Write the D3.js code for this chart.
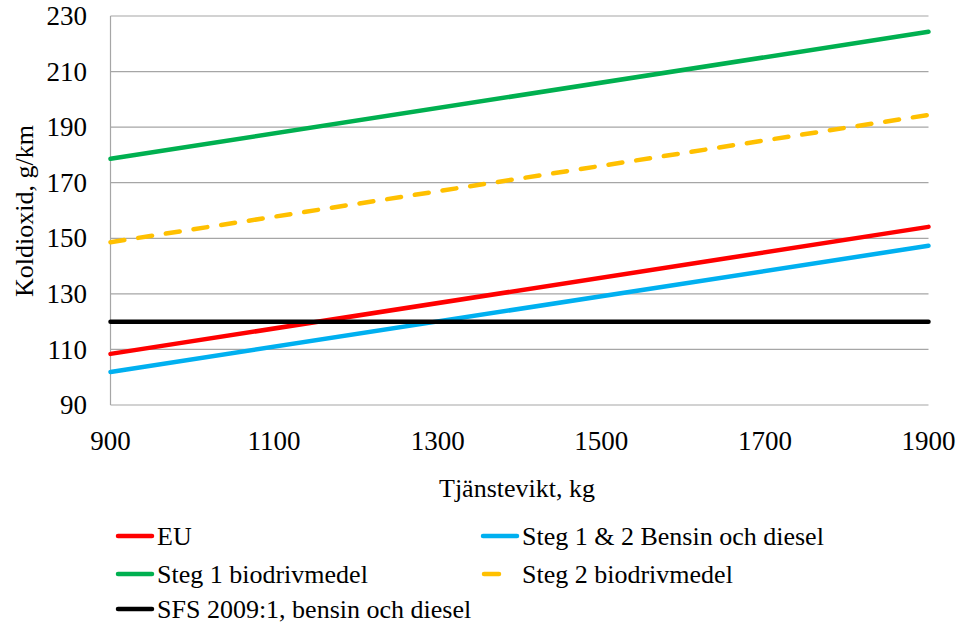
<!DOCTYPE html>
<html><head><meta charset="utf-8">
<script src="https://cdn.jsdelivr.net/npm/d3@7"></script>
</head><body style="margin:0"><svg id="c" width="961" height="628"></svg>
<script>
const xTicks = [900, 1100, 1300, 1500, 1700, 1900];
const yTicks = [90, 110, 130, 150, 170, 190, 210, 230];
const mass = [900, 1900];
const seriesNames = ["EU", "Steg 1 & 2 Bensin och diesel", "Steg 1 biodrivmedel", "Steg 2 biodrivmedel", "SFS 2009:1, bensin och diesel"];
const euValues = [108.4, 154.1];
const steg12Values = [101.9, 147.3];
const steg1BioValues = [178.6, 224.3];
const steg2BioValues = [148.6, 194.4];
const sfsValues = [120, 120];
const seriesColors = ["#ff0000", "#00b0f0", "#00b050", "#ffc000", "#000000"];
const seriesDash = [null, null, null, "14,14", null];

const FONT = "'Times New Roman', Tinos, 'Liberation Serif', serif";
const svg = d3.select("#c");
const x = d3.scaleLinear().domain([900, 1900]).range([110.5, 928.5]);
const y = d3.scaleLinear().domain([90, 230]).range([405, 16]);

svg.append("g").selectAll("line").data(yTicks).join("line")
  .attr("x1", x(900)).attr("x2", x(1900))
  .attr("y1", d => y(d)).attr("y2", d => y(d))
  .attr("stroke", "#a6a6a6").attr("stroke-width", 1.2);
svg.append("line").attr("x1", x(900)).attr("x2", x(900)).attr("y1", y(230)).attr("y2", y(90))
  .attr("stroke", "#a6a6a6").attr("stroke-width", 1.2);

function addText(sel) { return sel.append("text").style("font-family", FONT).attr("fill", "#000"); }

// y tick labels
svg.append("g").selectAll("text").data(yTicks).join("text")
  .attr("x", 87).attr("y", d => y(d)).attr("dy", "0.34em").attr("text-anchor", "end")
  .style("font-family", FONT).style("font-size", "27px").attr("fill", "#000")
  .text(d3.format("d"));
// x tick labels
svg.append("g").selectAll("text").data(xTicks).join("text")
  .attr("x", d => x(d)).attr("y", 431).attr("dy", "0.71em").attr("text-anchor", "middle")
  .style("font-family", FONT).style("font-size", "27px").attr("fill", "#000")
  .text(d3.format("d"));

addText(svg).attr("x", 517).attr("y", 497).attr("text-anchor", "middle")
  .style("font-size", "26px").text("Tjänstevikt, kg");
addText(svg).attr("transform", "translate(33,211) rotate(-90)").attr("text-anchor", "middle")
  .style("font-size", "26px").text("Koldioxid, g/km");

const allValues = [euValues, steg12Values, steg1BioValues, steg2BioValues, sfsValues];
const line = d3.line().x(d => x(d[0])).y(d => y(d[1]));
allValues.forEach((vals, i) => {
  svg.append("path").datum(mass.map((m, j) => [m, vals[j]]))
    .attr("d", line).attr("fill", "none")
    .attr("stroke", seriesColors[i]).attr("stroke-width", 4.5)
    .attr("stroke-linecap", "round")
    .attr("stroke-dasharray", seriesDash[i]);
});

const legendPos = [[117, 536], [482, 536], [117, 574], [482, 574], [117, 609]];
seriesNames.forEach((n, i) => {
  const [lx, ly] = legendPos[i];
  const g = svg.append("g");
  if (seriesDash[i]) {
    g.append("line").attr("x1", lx + 2).attr("x2", lx + 17).attr("y1", ly).attr("y2", ly)
      .attr("stroke", seriesColors[i]).attr("stroke-width", 4.5).attr("stroke-linecap", "round");
  } else {
    g.append("line").attr("x1", lx + 1).attr("x2", lx + 35).attr("y1", ly).attr("y2", ly)
      .attr("stroke", seriesColors[i]).attr("stroke-width", 4.5).attr("stroke-linecap", "round");
  }
  addText(g).attr("x", lx + 40).attr("y", ly).attr("dy", "0.34em")
    .style("font-size", "26px").text(n);
});
</script></body></html>
